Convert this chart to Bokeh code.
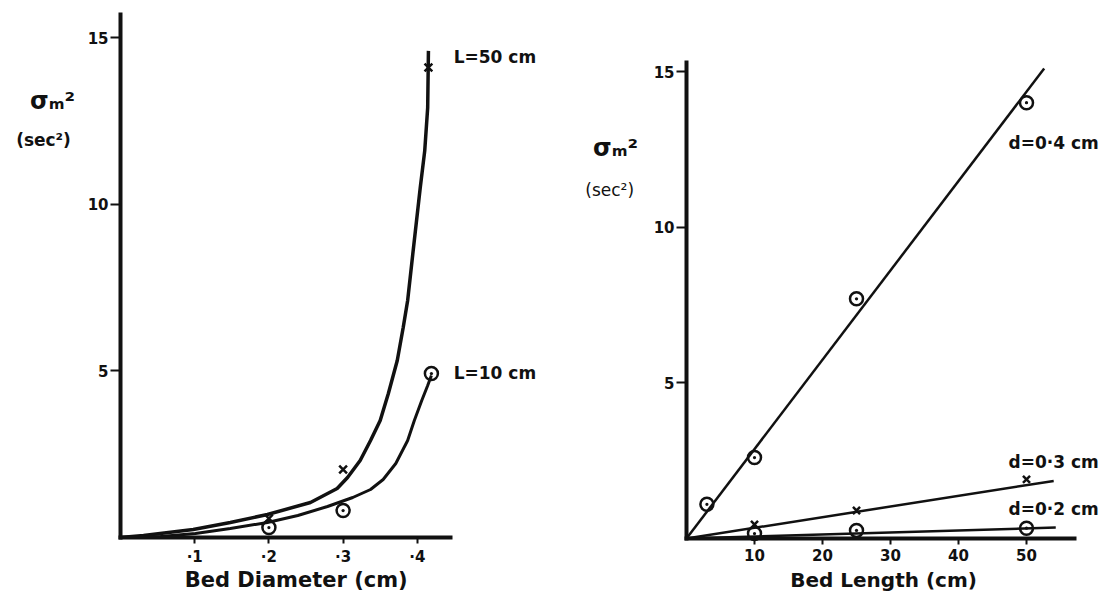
from bokeh.plotting import figure
from bokeh.layouts import row
from bokeh.models import Label, FixedTicker, Range1d
from bokeh.embed import file_html
from bokeh.resources import INLINE

# ---------------- data: left panel (variance vs bed diameter) ----------------
curve_L50_d = [0, 0.031, 0.098, 0.148, 0.198, 0.256, 0.292, 0.306, 0.323, 0.337,
               0.350, 0.361, 0.373, 0.381, 0.387, 0.394, 0.404, 0.410, 0.414, 0.415]
curve_L50_s = [0, 0.06, 0.24, 0.45, 0.69, 1.05, 1.47, 1.80, 2.31, 2.91,
               3.51, 4.32, 5.31, 6.30, 7.11, 8.52, 10.5, 11.6, 12.9, 14.6]
curve_L10_d = [0, 0.054, 0.101, 0.148, 0.198, 0.239, 0.279, 0.313, 0.337, 0.354,
               0.371, 0.387, 0.396, 0.406, 0.414, 0.419]
curve_L10_s = [0, 0.03, 0.12, 0.27, 0.45, 0.66, 0.93, 1.20, 1.44, 1.74,
               2.22, 2.91, 3.51, 4.11, 4.56, 4.86]
pts_L50_d = [0.2, 0.3, 0.415]
pts_L50_s = [0.57, 2.04, 14.1]
pts_L10_d = [0.2, 0.3, 0.419]
pts_L10_s = [0.30, 0.81, 4.92]
left_xticks = [0.1, 0.2, 0.3, 0.4]
left_xlabels = ["·1", "·2", "·3", "·4"]
left_yticks = [5, 10, 15]

# ---------------- data: right panel (variance vs bed length) ----------------
d04_L = [3, 10, 25, 50]
d04_s = [1.1, 2.6, 7.7, 14.0]
d03_L = [10, 25, 50]
d03_s = [0.45, 0.9, 1.9]
d02_L = [10, 25, 50]
d02_s = [0.16, 0.26, 0.33]
fit04_L = [0, 52.6]
fit04_s = [0, 15.1]
fit03_L = [0, 54.0]
fit03_s = [0, 1.85]
fit02_L = [0, 54.3]
fit02_s = [0, 0.35]
right_xticks = [10, 20, 30, 40, 50]
right_yticks = [5, 10, 15]

FONT = "DejaVu Sans"
INK = "#111111"


def style_axes(p, xb, yb, xt, yt, xlabels=None):
    for ax in (p.xaxis[0], p.yaxis[0]):
        ax.fixed_location = 0
        ax.axis_line_width = 4
        ax.axis_line_color = INK
        ax.axis_line_cap = "square"
        ax.major_tick_line_width = 2
        ax.major_tick_line_color = INK
        ax.major_tick_in = 0
        ax.minor_tick_line_color = None
        ax.major_label_text_font = FONT
        ax.major_label_text_font_style = "bold"
        ax.major_label_text_font_size = "15px"
        ax.major_label_text_color = INK
    p.xaxis[0].bounds = xb
    p.yaxis[0].bounds = yb
    p.xaxis[0].ticker = FixedTicker(ticks=xt, minor_ticks=[])
    p.yaxis[0].ticker = FixedTicker(ticks=yt, minor_ticks=[])
    p.xaxis[0].major_tick_out = 6
    p.xaxis[0].major_label_standoff = 4
    p.yaxis[0].major_tick_out = 10
    p.yaxis[0].major_label_standoff = 2
    if xlabels is not None:
        p.xaxis[0].major_label_overrides = {t: s for t, s in zip(xt, xlabels)}
    p.xgrid.visible = False
    p.ygrid.visible = False
    p.outline_line_color = None


def lab(p, x, y, text, size, align="left", style="bold"):
    p.add_layout(Label(x=x, y=y, text=text, text_font=FONT, text_font_size=size,
                       text_font_style=style, text_align=align,
                       text_baseline="middle", text_color=INK))


# ---------------- left figure (frame fills the canvas) ----------------
LX0, LXS, LY0, LYS = 120, 742.0, 537, 33.33
p1 = figure(width=560, height=595, output_backend="svg", toolbar_location=None,
            x_range=Range1d(-LX0 / LXS, (560 - LX0) / LXS),
            y_range=Range1d(-(595 - LY0) / LYS, LY0 / LYS),
            min_border=0, background_fill_color="white",
            border_fill_color="white")
style_axes(p1, (0, 0.445), (0, 15.7), left_xticks, left_yticks, left_xlabels)

p1.line(curve_L50_d, curve_L50_s, line_width=3.5, line_color=INK)
p1.line(curve_L10_d, curve_L10_s, line_width=3, line_color=INK)
p1.scatter(pts_L50_d, pts_L50_s, marker="x", size=11, line_width=2.5, line_color=INK)
p1.scatter(pts_L10_d, pts_L10_s, marker="circle_dot", size=13, line_width=2.5,
           line_color=INK, fill_color=None)

lab(p1, -0.0916, 13.11, "σₘ²", "24px", align="center")
lab(p1, -0.1038, 11.94, "(sec²)", "17px", align="center")
lab(p1, 0.449, 14.43, "L=50 cm", "17px")
lab(p1, 0.449, 4.95, "L=10 cm", "17px")
lab(p1, 0.2466, -1.29, "Bed  Diameter  (cm)", "21px", align="center")

# ---------------- right figure (frame fills the canvas) ----------------
RX0, RXS, RY0, RYS = 686 - 560, 6.8, 538, 31.13
p2 = figure(width=551, height=595, output_backend="svg", toolbar_location=None,
            x_range=Range1d(-RX0 / RXS, (551 - RX0) / RXS),
            y_range=Range1d(-(595 - RY0) / RYS, RY0 / RYS),
            min_border=0, background_fill_color="white",
            border_fill_color="white")
style_axes(p2, (0, 57), (0, 15.3), right_xticks, right_yticks)

p2.line(fit04_L, fit04_s, line_width=2.5, line_color=INK)
p2.line(fit03_L, fit03_s, line_width=2.5, line_color=INK)
p2.line(fit02_L, fit02_s, line_width=2.5, line_color=INK)
p2.scatter(d04_L, d04_s, marker="circle_dot", size=13, line_width=2.5,
           line_color=INK, fill_color=None)
p2.scatter(d03_L, d03_s, marker="x", size=10, line_width=2.5, line_color=INK)
p2.scatter(d02_L, d02_s, marker="circle_dot", size=13, line_width=2.5,
           line_color=INK, fill_color=None)

lab(p2, -10.44, 12.53, "σₘ²", "24px", align="center")
lab(p2, -11.3, 11.21, "(sec²)", "17px", align="center", style="normal")
lab(p2, 47.35, 12.72, "d=0·4 cm", "17px")
lab(p2, 47.35, 2.47, "d=0·3 cm", "17px")
lab(p2, 47.35, 0.96, "d=0·2 cm", "17px")
lab(p2, 30.0, -1.33, "Bed  Length  (cm)", "20px", align="center")

layout = row(p1, p2)
open("out.html", "w").write(file_html(layout, INLINE))
